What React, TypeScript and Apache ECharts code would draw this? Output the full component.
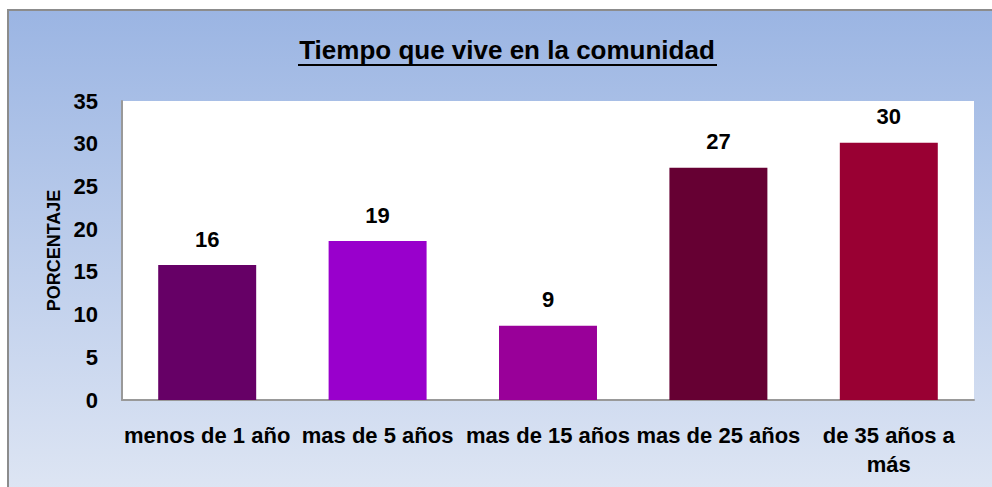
import React, { useEffect, useRef } from "react";
import * as echarts from "echarts";

const titleText = "Tiempo que vive en la comunidad";
const categories = ["menos de 1 año", "mas de 5 años", "mas de 15 años", "mas de 25 años", "de 35 años a\nmás"];
const values = [15.8, 18.6, 8.7, 27.2, 30.1];
const labels = ["16", "19", "9", "27", "30"];
const barColors = ["#660066", "#9900CC", "#990099", "#660033", "#990033"];
const yTicks = [0, 5, 10, 15, 20, 25, 30, 35];

const FONT = "'Liberation Sans', Arial, sans-serif";

export default function App() {
  const ref = useRef<HTMLDivElement>(null);
  useEffect(() => {
    if (!ref.current) return;
    const chart = echarts.init(ref.current, undefined, { renderer: "svg" });
    chart.setOption({
      animation: false,
      backgroundColor: "#ffffff",
      graphic: [
        {
          type: "rect",
          z: -10,
          silent: true,
          shape: { x: 8, y: 10, width: 1000, height: 500 },
          style: {
            fill: new echarts.graphic.LinearGradient(0, 0, 0, 1, [
              { offset: 0, color: "#9bb5e3" },
              { offset: 1, color: "#e0e7f4" },
            ]),
            stroke: "#8c8c8c",
            lineWidth: 2,
          },
        },
        {
          type: "rect",
          z: -5,
          silent: true,
          shape: { x: 122, y: 101, width: 852, height: 299 },
          style: { fill: "#ffffff" },
        },
        {
          type: "text",
          x: 507,
          y: 50,
          silent: true,
          style: {
            text: titleText,
            align: "center",
            verticalAlign: "middle",
            font: "bold 26px " + FONT,
            fill: "#000",
          },
        },
        {
          type: "line",
          silent: true,
          shape: { x1: 298, y1: 65, x2: 717, y2: 65 },
          style: { stroke: "#000", lineWidth: 2 },
        },
      ],
      grid: { left: 122, right: 18, top: 101, bottom: 87, containLabel: false },
      xAxis: {
        type: "category",
        data: categories,
        axisLine: { show: true, lineStyle: { color: "#999999", width: 2 } },
        axisTick: { show: false },
        axisLabel: {
          interval: 0,
          margin: 21,
          fontFamily: FONT,
          fontWeight: "bold",
          fontSize: 22,
          lineHeight: 29,
          color: "#000",
        },
      },
      yAxis: {
        type: "value",
        min: 0,
        max: 35,
        interval: 5,
        name: "PORCENTAJE",
        nameLocation: "middle",
        nameGap: 55,
        nameRotate: 90,
        nameTextStyle: { fontFamily: FONT, fontWeight: "bold", fontSize: 18, color: "#000" },
        axisLine: { show: true, lineStyle: { color: "#999999", width: 2 } },
        axisTick: { show: false },
        splitLine: { show: false },
        axisLabel: {
          margin: 24,
          fontFamily: FONT,
          fontWeight: "bold",
          fontSize: 22,
          color: "#000",
          formatter: (v: number) => (yTicks.includes(v) ? String(v) : ""),
        },
      },
      series: [
        {
          type: "bar",
          barWidth: "57.5%",
          data: values.map((v, i) => ({ value: v, itemStyle: { color: barColors[i] } })),
          label: {
            show: true,
            position: "top",
            distance: 15,
            fontFamily: FONT,
            fontWeight: "bold",
            fontSize: 22,
            color: "#000",
            formatter: (p: any) => labels[p.dataIndex],
          },
        },
      ],
    });
    return () => chart.dispose();
  }, []);
  return <div ref={ref} style={{ position: "absolute", left: 0, top: 0, width: 992, height: 487 }} />;
}
